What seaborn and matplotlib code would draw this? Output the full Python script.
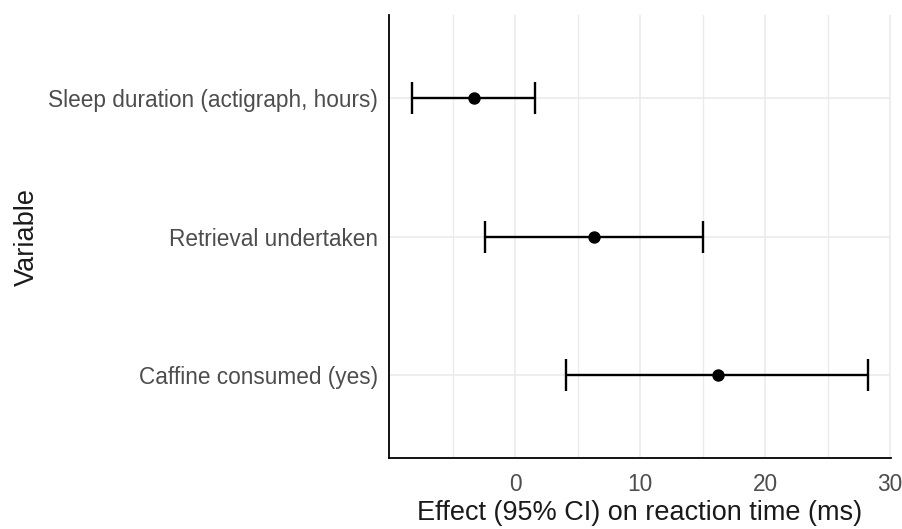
import pandas as pd
import seaborn as sns
import matplotlib.pyplot as plt
from matplotlib.ticker import FixedLocator

# values (bottom row first)
variables = ["Caffine consumed (yes)", "Retrieval undertaken", "Sleep duration (actigraph, hours)"]
estimate = [16.2, 6.3, -3.3]
ci_low = [4.05, -2.4, -8.25]
ci_high = [28.25, 15.0, 1.6]
x_ticks = [0, 10, 20, 30]

df = pd.DataFrame({"variable": variables, "estimate": estimate,
                   "low": ci_low, "high": ci_high})

sns.set_theme(style="white")
plt.rcParams['font.family'] = ['Liberation Sans', 'DejaVu Sans']

fig = plt.figure(figsize=(9.02, 5.29), dpi=100)
ax = fig.add_axes([0.4313, 0.1342, 0.5562, 0.8374])

# CI bars
ax.errorbar(df["estimate"], df["variable"],
            xerr=[df["estimate"] - df["low"], df["high"] - df["estimate"]],
            fmt="none", ecolor="black", elinewidth=1.7, capsize=11.5, capthick=1.7, zorder=2)
sns.scatterplot(data=df, x="estimate", y="variable", color="black", s=80,
                edgecolor="black", linewidth=0, ax=ax, zorder=3)

ax.set_xlim(-10.1, 30.05)
ax.set_ylim(-0.6, 2.6)
ax.xaxis.set_major_locator(FixedLocator(x_ticks))
ax.xaxis.set_minor_locator(FixedLocator([-5, 5, 15, 25]))
ax.grid(True, which="major", axis="both", color="#EBEBEB", linewidth=1.2, zorder=0)
ax.grid(True, which="minor", axis="x", color="#EBEBEB", linewidth=1.0, zorder=0)
ax.set_axisbelow(True)

for s in ["top", "right"]:
    ax.spines[s].set_visible(False)
for s in ["left", "bottom"]:
    ax.spines[s].set_color("black")
    ax.spines[s].set_linewidth(1.3)

ax.tick_params(axis="both", which="both", length=0, labelsize=16.3, labelcolor="#4D4D4D")
ax.tick_params(axis="x", pad=11)
ax.tick_params(axis="y", pad=8)
ax.set_xlabel("Effect (95% CI) on reaction time (ms)", fontsize=19.5, color="#1a1a1a", labelpad=3)
ax.set_ylabel("Variable", fontsize=19.5, color="#1a1a1a")
ax.yaxis.set_label_coords(-0.695, 0.5)

plt.savefig("out.png", dpi=100)
plt.close()
